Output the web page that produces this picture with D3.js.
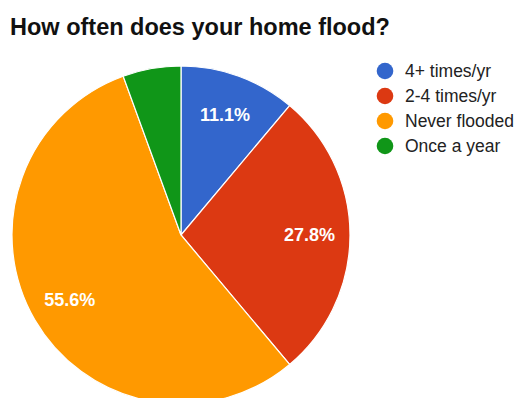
<!DOCTYPE html>
<html><head><meta charset="utf-8">
<script src="https://cdn.jsdelivr.net/npm/d3@7"></script>
<style>body{margin:0;background:#fff}svg{display:block}</style>
</head><body>
<svg id="c" width="517" height="398"></svg>
<script>
const categories = ["4+ times/yr", "2-4 times/yr", "Never flooded", "Once a year"];
const values = [2, 5, 10, 1];
const colors = ["#3366cc", "#dc3912", "#ff9900", "#109618"];
const title = "How often does your home flood?";

const svg = d3.select("#c");
const cx = 181, cy = 235, R = 169;

svg.append("text").attr("x", 10).attr("y", 35)
  .attr("font-family", "Liberation Sans, Arial, sans-serif")
  .attr("font-weight", "bold").attr("font-size", 23.5).attr("fill", "#111")
  .text(title);

const total = d3.sum(values);
const pie = d3.pie().sort(null).value(d => d);
const arcs = pie(values);
const arc = d3.arc().innerRadius(0).outerRadius(R);
const labelArc = d3.arc().innerRadius(R * 0.76).outerRadius(R * 0.76);

const g = svg.append("g").attr("transform", `translate(${cx},${cy})`);
g.selectAll("path").data(arcs).join("path")
  .attr("d", arc).attr("fill", (d, i) => colors[i])
  .attr("stroke", "#fff").attr("stroke-width", 1.2);

g.selectAll("text").data(arcs.filter(d => d.value / total > 0.08)).join("text")
  .attr("transform", d => `translate(${labelArc.centroid(d)})`)
  .attr("text-anchor", "middle").attr("dy", "0.36em")
  .attr("font-family", "Liberation Sans, Arial, sans-serif")
  .attr("font-weight", "bold").attr("font-size", 18).attr("fill", "#fff")
  .text(d => (d.value / total * 100).toFixed(1) + "%");

const leg = svg.append("g");
const ly = d3.scalePoint().domain(categories).range([71, 146]);
categories.forEach((c, i) => {
  leg.append("circle").attr("cx", 385).attr("cy", ly(c)).attr("r", 8.3).attr("fill", colors[i]);
  leg.append("text").attr("x", 405).attr("y", ly(c)).attr("dy", "0.36em")
    .attr("font-family", "Liberation Sans, Arial, sans-serif")
    .attr("font-size", 17.5).attr("fill", "#222").text(c);
});
</script>
</body></html>
